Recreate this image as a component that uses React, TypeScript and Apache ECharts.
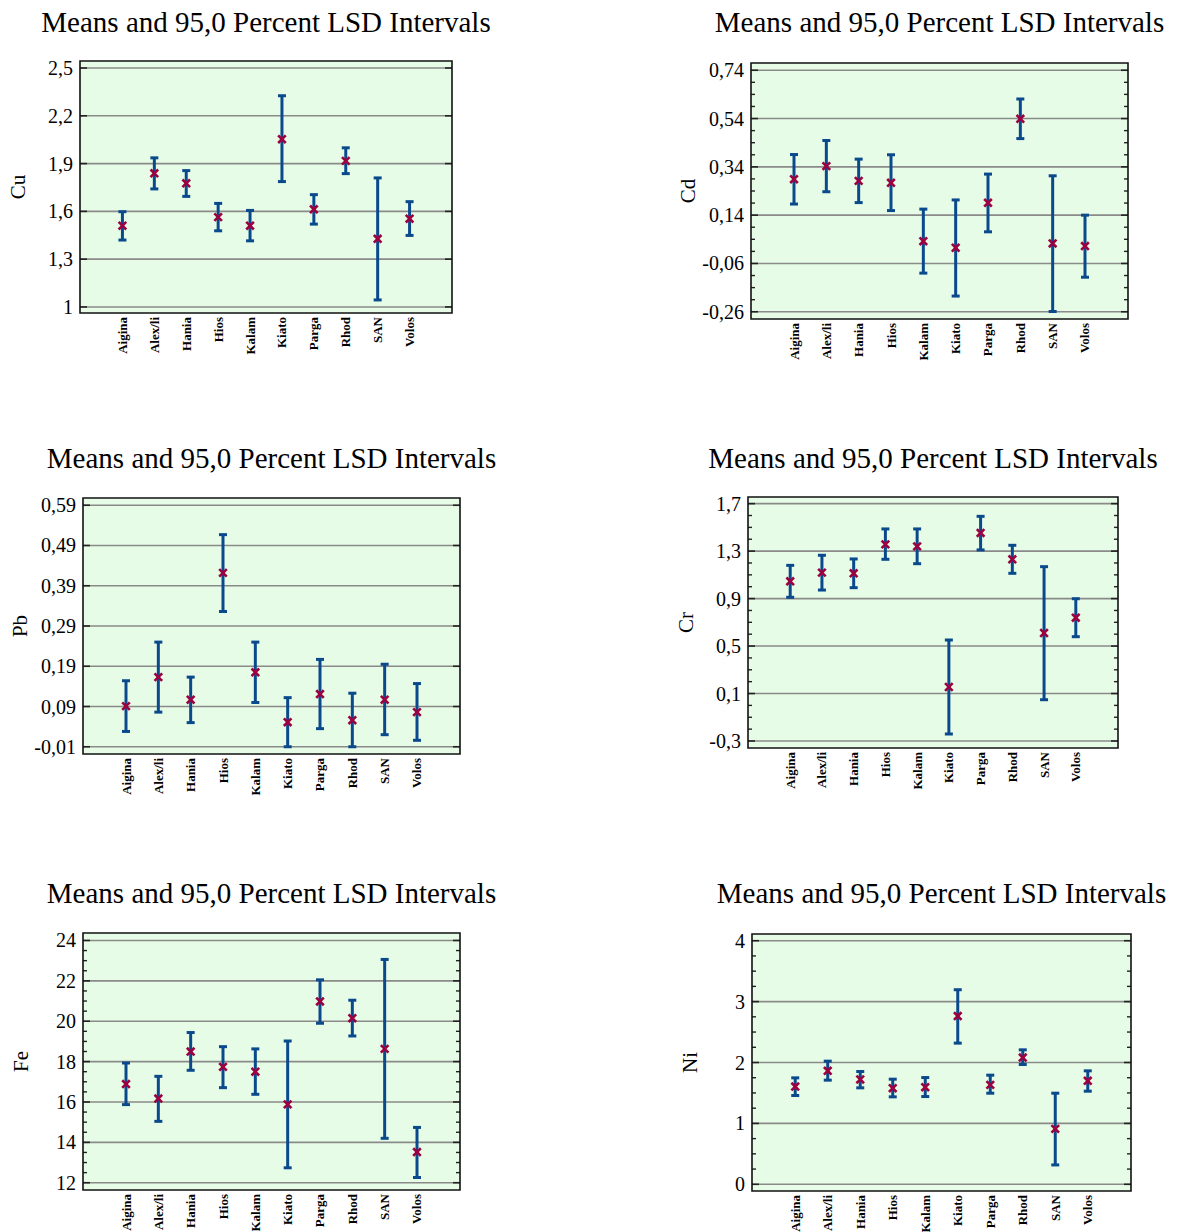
import React, { useEffect, useRef } from "react";
import * as echarts from "echarts";

// ---------- data ----------
const CATEGORIES = ["Aigina", "Alex/li", "Hania", "Hios", "Kalam", "Kiato", "Parga", "Rhod", "SAN", "Volos"];
const TITLE = "Means and 95,0 Percent LSD Intervals";

const CU_MEAN = [1.51, 1.839, 1.776, 1.564, 1.51, 2.053, 1.613, 1.917, 1.428, 1.554];
const CU_LOW = [1.42, 1.741, 1.694, 1.478, 1.415, 1.787, 1.52, 1.837, 1.044, 1.449];
const CU_HIGH = [1.598, 1.936, 1.856, 1.65, 1.606, 2.326, 1.705, 1.999, 1.81, 1.661];
const CU_TICKS = [1, 1.3, 1.6, 1.9, 2.2, 2.5];

const CD_MEAN = [0.289, 0.343, 0.282, 0.274, 0.032, 0.005, 0.191, 0.539, 0.023, 0.012];
const CD_LOW = [0.186, 0.237, 0.192, 0.159, -0.1, -0.195, 0.071, 0.457, -0.259, -0.117];
const CD_HIGH = [0.391, 0.449, 0.372, 0.39, 0.165, 0.203, 0.31, 0.621, 0.303, 0.14];
const CD_TICKS = [-0.26, -0.06, 0.14, 0.34, 0.54, 0.74];

const PB_MEAN = [0.091, 0.163, 0.107, 0.422, 0.175, 0.051, 0.121, 0.056, 0.107, 0.076];
const PB_LOW = [0.028, 0.076, 0.05, 0.326, 0.1, -0.01, 0.035, -0.01, 0.02, 0.006];
const PB_HIGH = [0.154, 0.25, 0.163, 0.517, 0.25, 0.112, 0.207, 0.123, 0.195, 0.147];
const PB_TICKS = [-0.01, 0.09, 0.19, 0.29, 0.39, 0.49, 0.59];

const CR_MEAN = [1.046, 1.119, 1.113, 1.357, 1.34, 0.155, 1.453, 1.231, 0.61, 0.739];
const CR_LOW = [0.911, 0.972, 0.992, 1.231, 1.194, -0.241, 1.31, 1.113, 0.048, 0.579];
const CR_HIGH = [1.18, 1.265, 1.234, 1.487, 1.487, 0.551, 1.593, 1.349, 1.169, 0.899];
const CR_TICKS = [-0.3, 0.1, 0.5, 0.9, 1.3, 1.7];

const FE_MEAN = [16.89, 16.17, 18.5, 17.74, 17.5, 15.88, 20.98, 20.15, 18.63, 13.52];
const FE_LOW = [15.87, 15.04, 17.57, 16.71, 16.38, 12.74, 19.9, 19.27, 14.2, 12.26];
const FE_HIGH = [17.93, 17.27, 19.44, 18.74, 18.63, 19.02, 22.05, 21.04, 23.06, 14.74];
const FE_TICKS = [12, 14, 16, 18, 20, 22, 24];

const NI_MEAN = [1.605, 1.863, 1.721, 1.578, 1.595, 2.762, 1.633, 2.082, 0.91, 1.699];
const NI_LOW = [1.458, 1.71, 1.584, 1.436, 1.441, 2.318, 1.496, 1.967, 0.318, 1.529];
const NI_HIGH = [1.748, 2.022, 1.852, 1.726, 1.753, 3.195, 1.792, 2.208, 1.496, 1.863];
const NI_TICKS = [0, 1, 2, 3, 4];

// ---------- layout / style ----------
const SERIF = "Liberation Serif";
const BG = "#e6fce6";
const BLUE = "#0a4a8c";
const MARK = "#9c0040";
const GRIDLINE = "#8a8a8a";

const PANELS = [
  { name: "Cu", mean: CU_MEAN, low: CU_LOW, high: CU_HIGH, ticks: CU_TICKS, minor: 0, min: 0.962, max: 2.544,
    left: 80, top: 61, width: 372, height: 252, titleX: 266, titleY: 22 },
  { name: "Cd", mean: CD_MEAN, low: CD_LOW, high: CD_HIGH, ticks: CD_TICKS, minor: 4, min: -0.29, max: 0.77,
    left: 751, top: 63, width: 377, height: 256, titleX: 939.5, titleY: 22 },
  { name: "Pb", mean: PB_MEAN, low: PB_LOW, high: PB_HIGH, ticks: PB_TICKS, minor: 0, min: -0.028, max: 0.608,
    left: 83, top: 498, width: 377, height: 256, titleX: 271.5, titleY: 458 },
  { name: "Cr", mean: CR_MEAN, low: CR_LOW, high: CR_HIGH, ticks: CR_TICKS, minor: 4, min: -0.359, max: 1.756,
    left: 748, top: 497, width: 370, height: 251, titleX: 933, titleY: 458 },
  { name: "Fe", mean: FE_MEAN, low: FE_LOW, high: FE_HIGH, ticks: FE_TICKS, minor: 4, min: 11.64, max: 24.37,
    left: 83, top: 933, width: 377, height: 257, titleX: 271.5, titleY: 893 },
  { name: "Ni", mean: NI_MEAN, low: NI_LOW, high: NI_HIGH, ticks: NI_TICKS, minor: 4, min: -0.11, max: 4.11,
    left: 752, top: 934, width: 379, height: 257, titleX: 941.5, titleY: 893 },
];

const fmt = (v: number) => String(Math.round(v * 1000) / 1000).replace(".", ",");

function buildOption() {
  const grid: any[] = [];
  const xAxis: any[] = [];
  const yAxis: any[] = [];
  const series: any[] = [];
  const graphic: any[] = [];

  PANELS.forEach((p, i) => {
    grid.push({
      left: p.left, top: p.top, width: p.width, height: p.height,
      containLabel: false, outerBoundsMode: "none",
    });
    xAxis.push({
      gridIndex: i,
      type: "value",
      min: -1.33,
      max: CATEGORIES.length - 1 + 1.33,
      axisLine: { show: false },
      axisTick: { show: false },
      splitLine: { show: false },
      axisLabel: {
        customValues: CATEGORIES.map((_, k) => k),
        formatter: (v: number) => CATEGORIES[Math.round(v)] ?? "",
        rotate: 90,
        fontFamily: SERIF,
        fontWeight: "bold",
        fontSize: 13,
        color: "#000",
        margin: 4,
      },
    });
    yAxis.push({
      gridIndex: i,
      type: "value",
      min: p.min,
      max: p.max,
      axisLine: { show: false },
      axisTick: { show: false },
      splitLine: { show: false },
      axisLabel: {
        customValues: p.ticks,
        formatter: (v: number) => fmt(v),
        fontFamily: SERIF,
        fontSize: 20,
        color: "#000",
        margin: 7,
      },
      name: p.name,
      nameLocation: "middle",
      nameGap: 52,
      nameRotate: 90,
      nameTextStyle: { fontFamily: SERIF, fontSize: 21, color: "#000" },
    });

    const ticks = p.ticks;
    const minorN = p.minor;
    series.push({
      type: "custom",
      xAxisIndex: i,
      yAxisIndex: i,
      silent: true,
      z: 1,
      clip: false,
      data: [[0, ticks[0]]],
      encode: { x: 0, y: 1 },
      renderItem: (params: any, api: any) => {
        const cs = params.coordSys;
        const x0 = cs.x, x1 = cs.x + cs.width, y0 = cs.y;
        const children: any[] = [
          { type: "rect", shape: { x: x0, y: y0, width: cs.width, height: cs.height }, style: { fill: BG } },
        ];
        ticks.forEach((t: number) => {
          const y = api.coord([0, t])[1];
          children.push({ type: "line", shape: { x1: x0, y1: y, x2: x1, y2: y }, style: { stroke: GRIDLINE, lineWidth: 1.6 } });
          children.push({ type: "line", shape: { x1: x0, y1: y, x2: x0 + 7, y2: y }, style: { stroke: "#222", lineWidth: 1.6 } });
          children.push({ type: "line", shape: { x1: x1 - 7, y1: y, x2: x1, y2: y }, style: { stroke: "#222", lineWidth: 1.6 } });
        });
        if (minorN > 0) {
          const step = (ticks[1] - ticks[0]) / minorN;
          for (let k = 0; k < ticks.length - 1; k++) {
            for (let m = 1; m < minorN; m++) {
              const y = api.coord([0, ticks[k] + m * step])[1];
              children.push({ type: "line", shape: { x1: x0, y1: y, x2: x0 + 4, y2: y }, style: { stroke: "#222", lineWidth: 1.4 } });
              children.push({ type: "line", shape: { x1: x1 - 4, y1: y, x2: x1, y2: y }, style: { stroke: "#222", lineWidth: 1.4 } });
            }
          }
        }
        children.push({
          type: "rect",
          shape: { x: x0, y: y0, width: cs.width, height: cs.height },
          style: { fill: "none", stroke: "#111", lineWidth: 1.6 },
          z2: 100,
        });
        return { type: "group", children };
      },
    });

    series.push({
      type: "custom",
      xAxisIndex: i,
      yAxisIndex: i,
      z: 5,
      clip: false,
      data: CATEGORIES.map((_, k) => [k, p.low[k], p.high[k], p.mean[k]]),
      encode: { x: 0, y: [1, 2, 3] },
      renderItem: (params: any, api: any) => {
        const x = api.value(0);
        const lo = api.coord([x, api.value(1)]);
        const hi = api.coord([x, api.value(2)]);
        const m = api.coord([x, api.value(3)]);
        const cw = 4;
        const r = 3.8;
        const ls = { stroke: BLUE, lineWidth: 3 };
        const ms = { stroke: MARK, lineWidth: 2.6 };
        return {
          type: "group",
          children: [
            { type: "line", shape: { x1: hi[0], y1: hi[1], x2: lo[0], y2: lo[1] }, style: ls },
            { type: "line", shape: { x1: hi[0] - cw, y1: hi[1], x2: hi[0] + cw, y2: hi[1] }, style: ls },
            { type: "line", shape: { x1: lo[0] - cw, y1: lo[1], x2: lo[0] + cw, y2: lo[1] }, style: ls },
            { type: "line", shape: { x1: m[0] - r, y1: m[1] - r, x2: m[0] + r, y2: m[1] + r }, style: ms },
            { type: "line", shape: { x1: m[0] - r, y1: m[1] + r, x2: m[0] + r, y2: m[1] - r }, style: ms },
          ],
        };
      },
    });

    graphic.push({
      type: "text",
      x: p.titleX,
      y: p.titleY,
      style: {
        text: TITLE,
        fontFamily: SERIF,
        fontSize: 29,
        fill: "#000",
        align: "center",
        verticalAlign: "middle",
      },
    });
  });

  return {
    animation: false,
    backgroundColor: "#fff",
    textStyle: { fontFamily: SERIF },
    grid,
    xAxis,
    yAxis,
    series,
    graphic,
  };
}

export default function App() {
  const ref = useRef<HTMLDivElement>(null);
  useEffect(() => {
    if (!ref.current) return;
    const chart = echarts.init(ref.current, undefined, { renderer: "svg" });
    chart.setOption(buildOption() as any);
    return () => chart.dispose();
  }, []);
  return (
    <div
      ref={ref}
      style={{ position: "absolute", left: 0, top: 0, width: 1179, height: 1232 }}
    />
  );
}
